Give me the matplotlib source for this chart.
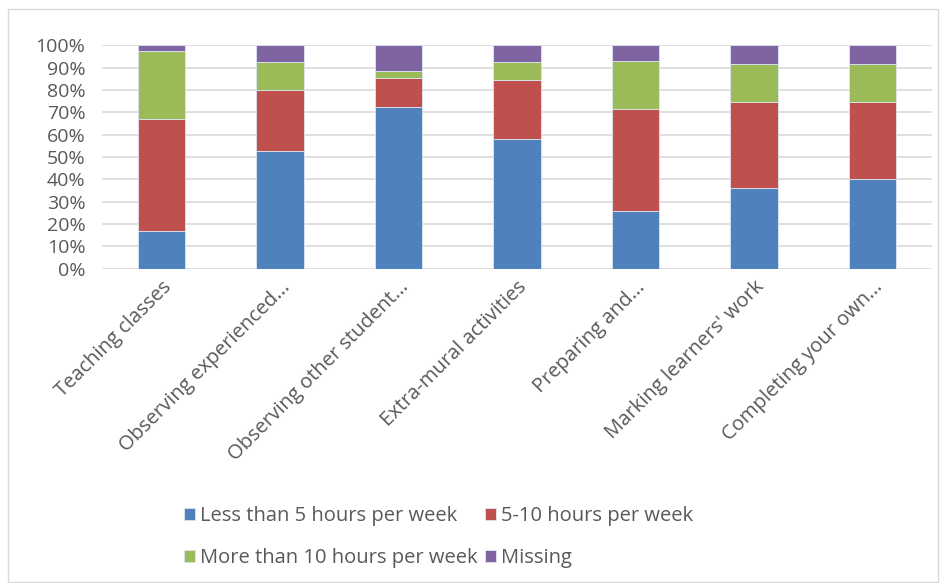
import matplotlib.pyplot as plt
import numpy as np
from matplotlib.patches import Rectangle
from matplotlib.ticker import PercentFormatter

categories = ['Teaching classes', 'Observing experienced...', 'Observing other student...',
              'Extra-mural activities', 'Preparing and...', "Marking learners' work",
              'Completing your own...']
less5 = [16.7, 52.8, 72.2, 57.9, 25.7, 36.1, 40.0]
h5_10 = [50.4, 27.1, 13.3, 26.4, 45.9, 38.5, 34.6]
more10 = [30.5, 12.5, 2.9, 8.1, 21.2, 17.2, 17.2]
missing = [2.4, 7.6, 11.6, 7.6, 7.2, 8.2, 8.2]

series = [('Less than 5 hours per week', less5, '#4F81BD'),
          ('5-10 hours per week', h5_10, '#C0504D'),
          ('More than 10 hours per week', more10, '#9BBB59'),
          ('Missing', missing, '#8064A2')]

plt.rcParams['font.family'] = ['Open Sans', 'DejaVu Sans']

fig = plt.figure(figsize=(9.47, 5.83), dpi=100)
ax = fig.add_axes([102/947, 1-268.7/583, 830/947, 223.4/583])

x = np.arange(len(categories))
bottom = np.zeros(len(categories))
handles = []
for name, vals, col in series:
    v = np.array(vals) / 100
    b = ax.bar(x, v, 0.4, bottom=bottom, color=col, edgecolor='#dce6f2', linewidth=0.6,
               label=name, zorder=3)
    handles.append(b)
    bottom += v

ax.set_xlim(-0.5, len(categories) - 0.5)
ax.set_ylim(0, 1)
ax.set_yticks(np.arange(0, 1.01, 0.1))
ax.yaxis.set_major_formatter(PercentFormatter(1.0, decimals=0))
ax.grid(axis='y', color='#d9d9d9', linewidth=1.2, zorder=0)
for s in ax.spines.values():
    s.set_visible(False)
ax.tick_params(axis='y', length=0, labelsize=14, colors='#595959', pad=12)
ax.tick_params(axis='x', length=0, labelsize=14.5, colors='#595959', pad=6)
ax.set_xticks(x)
ax.set_xticklabels(categories, rotation=45, ha='right', rotation_mode='anchor')

# legend fills by column, so order handles to get rows like the original
order = [0, 2, 1, 3]
fig.legend(handles=[handles[i] for i in order], loc='upper left',
           bbox_to_anchor=(166/947, 1-488/583),
           ncol=2, frameon=False, fontsize=14.5, labelcolor='#595959',
           handlelength=0.55, handleheight=0.55, handletextpad=0.25,
           columnspacing=0.35, labelspacing=1.1)

fig.patches.append(Rectangle((8/947, 0.002), 930/947, 1-10/583, transform=fig.transFigure,
                             fill=False, edgecolor='#d9d9d9', linewidth=1))

fig.savefig('out.png', dpi=100)
